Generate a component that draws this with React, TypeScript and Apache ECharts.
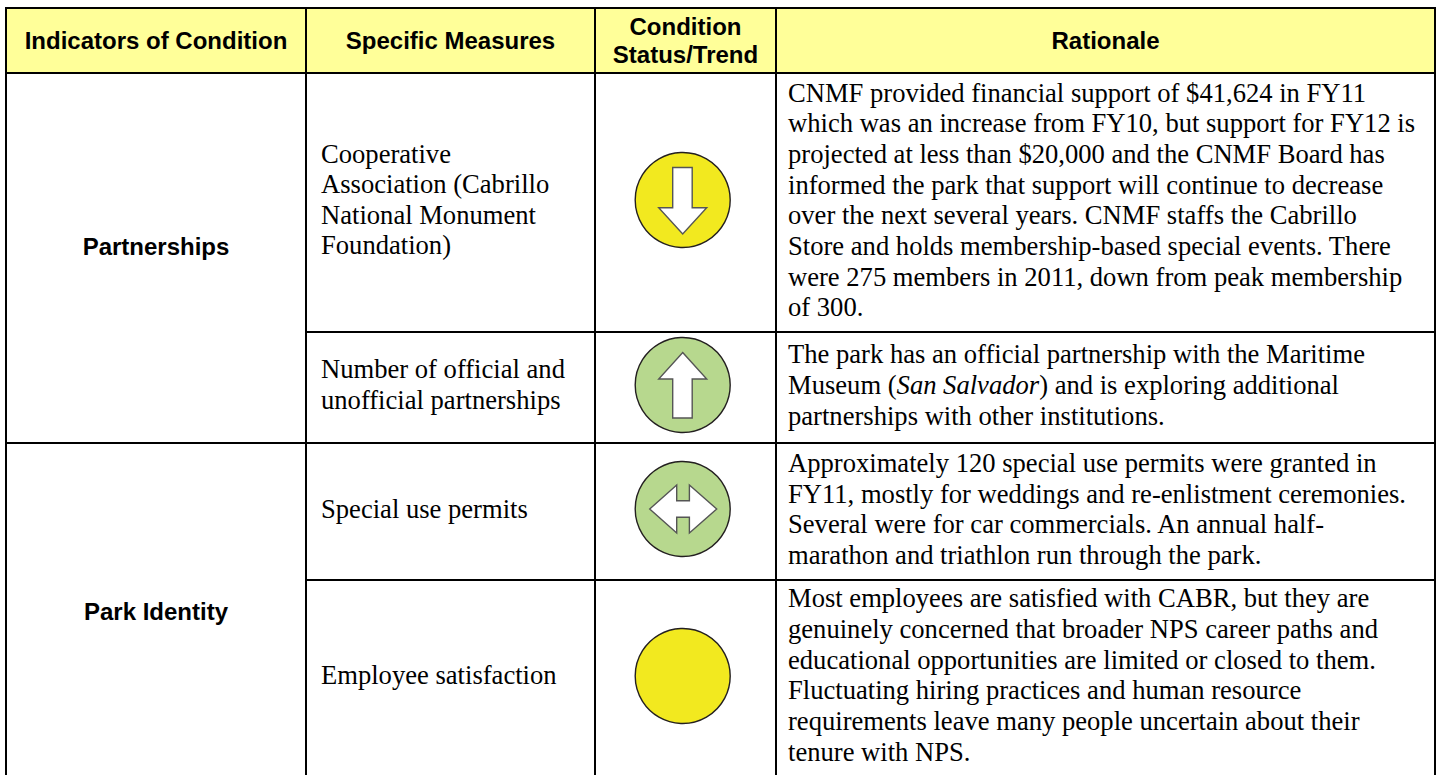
import React, { useEffect, useRef } from "react";
import * as echarts from "echarts";

const headers = [["Indicators of Condition"], ["Specific Measures"], ["Condition", "Status/Trend"], ["Rationale"]];
const indicators = ["Partnerships", "Park Identity"];
const measures = [
  ["Cooperative", "Association (Cabrillo", "National Monument", "Foundation)"],
  ["Number of official and", "unofficial partnerships"],
  ["Special use permits"],
  ["Employee satisfaction"],
];
const trends = ["down", "up", "both", "none"];
const rationale = [
  [
    "CNMF provided financial support of $41,624 in FY11",
    "which was an increase from FY10, but support for FY12 is",
    "projected at less than $20,000 and the CNMF Board has",
    "informed the park that support will continue to decrease",
    "over the next several years. CNMF staffs the Cabrillo",
    "Store and holds membership-based special events. There",
    "were 275 members in 2011, down from peak membership",
    "of 300.",
  ],
  [
    "The park has an official partnership with the Maritime",
    "Museum ({i|San Salvador}) and is exploring additional",
    "partnerships with other institutions.",
  ],
  [
    "Approximately 120 special use permits were granted in",
    "FY11, mostly for weddings and re-enlistment ceremonies.",
    "Several were for car commercials. An annual half-",
    "marathon and triathlon run through the park.",
  ],
  [
    "Most employees are satisfied with CABR, but they are",
    "genuinely concerned that broader NPS career paths and",
    "educational opportunities are limited or closed to them.",
    "Fluctuating hiring practices and human resource",
    "requirements leave many people uncertain about their",
    "tenure with NPS.",
  ],
];

const colX = [6, 306, 595, 776, 1435];
const top = 8;
const headBottom = 73;
const rowY = [73, 332, 443, 580, 775];
const indicatorY = [246, 611];
const circleX = 682.7;
const circleY = [200, 385, 509, 676];
const SERIF = "'Liberation Serif', 'Times New Roman', serif";
const SANS = "'Liberation Sans', Arial, sans-serif";
const FS = 26.6;
const HFS = 24;
const LH = 30.7;
const BLACK = "#000";

function block(lines: string[], x: number, midY: number, font: string, weight: string, size: number, align: string, lh = LH) {
  const y0 = midY - ((lines.length - 1) * lh) / 2;
  return lines.map((t, i) => ({
    type: "text",
    silent: true,
    x,
    y: y0 + i * lh,
    style: {
      text: t,
      fill: "#000",
      font: `${weight} ${size}px ${font}`,
      textAlign: align,
      textVerticalAlign: "middle",
      rich: { i: { fontStyle: "italic", fontFamily: font, fontSize: size, fill: "#000" } },
    },
  }));
}

const shapes: Record<string, number[][]> = {
  down: [[-10, -32.5], [9.5, -32.5], [9.5, 7.7], [24, 7.7], [0, 34], [-24, 7.7], [-10, 7.7]],
  up: [[0, -32.5], [24, -6], [9.5, -6], [9.5, 33], [-10, 33], [-10, -6], [-24, -6]],
  both: [[-33, 0], [-6, -24], [-6, -8.3], [6.7, -8.3], [6.7, -24], [34, 0], [6.7, 24], [6.7, 8.3], [-6, 8.3], [-6, 24]],
};

function buildGraphics() {
  const g: any[] = [];
  g.push({ type: "rect", silent: true, shape: { x: colX[0], y: top, width: colX[4] - colX[0], height: headBottom - top }, style: { fill: "#ffff99" } });

  const vline = (x: number) => ({ type: "line", silent: true, shape: { x1: x, y1: top - 1, x2: x, y2: 775 }, style: { stroke: BLACK, lineWidth: 2 } });
  const hline = (y: number, x1: number, x2: number) => ({ type: "line", silent: true, shape: { x1, y1: y, x2, y2: y }, style: { stroke: BLACK, lineWidth: 2 } });
  colX.forEach((x) => g.push(vline(x)));
  g.push(hline(top, colX[0] - 1, colX[4] + 1));
  g.push(hline(headBottom, colX[0], colX[4]));
  g.push(hline(rowY[1], colX[1], colX[4]));
  g.push(hline(rowY[2], colX[0], colX[4]));
  g.push(hline(rowY[3], colX[1], colX[4]));

  headers.forEach((lines, i) => {
    g.push(...block(lines, (colX[i] + colX[i + 1]) / 2, (top + headBottom) / 2, SANS, "bold", HFS, "center", 28));
  });
  indicators.forEach((t, i) => {
    g.push(...block([t], (colX[0] + colX[1]) / 2, indicatorY[i], SANS, "bold", HFS, "center"));
  });
  measures.forEach((lines, i) => {
    g.push(...block(lines, colX[1] + 15, (rowY[i] + rowY[i + 1]) / 2 - 3, SERIF, "normal", FS, "left", 30.5));
  });
  rationale.forEach((lines, i) => {
    g.push(...block(lines, colX[3] + 12, (rowY[i] + rowY[i + 1]) / 2 - 2.5, SERIF, "normal", FS, "left"));
  });
  trends.forEach((t, i) => {
    const fill = t === "down" || t === "none" ? "#f2e91f" : "#b7d88e";
    g.push({ type: "circle", silent: true, shape: { cx: circleX, cy: circleY[i], r: 47.5 }, style: { fill, stroke: "#231f20", lineWidth: 1.4 } });
    if (shapes[t]) {
      g.push({
        type: "polygon",
        silent: true,
        shape: { points: shapes[t].map(([dx, dy]) => [circleX + dx, circleY[i] + dy]) },
        style: { fill: "#fff", stroke: "#555", lineWidth: 1.4 },
      });
    }
  });
  return g;
}

export default function App() {
  const ref = useRef<HTMLDivElement>(null);
  useEffect(() => {
    document.body.style.margin = "0";
    const chart = echarts.init(ref.current!, undefined, { renderer: "svg" });
    chart.setOption({ animation: false, backgroundColor: "#fff", graphic: { elements: buildGraphics() } });
    return () => chart.dispose();
  }, []);
  return <div ref={ref} style={{ width: 1440, height: 775 }} />;
}
